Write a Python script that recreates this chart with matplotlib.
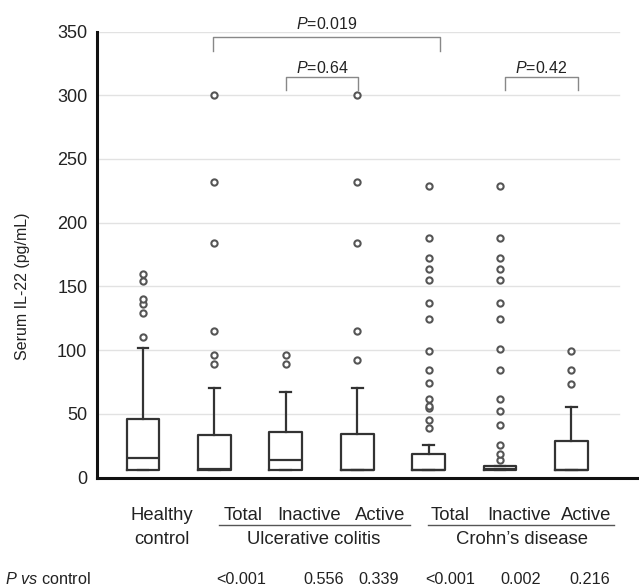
import matplotlib
matplotlib.use('Agg')
import matplotlib.pyplot as plt

plt.rcParams['font.family'] = ['Liberation Sans', 'DejaVu Sans']
plt.rcParams['mathtext.fontset'] = 'custom'
plt.rcParams['mathtext.rm'] = 'Liberation Sans'
plt.rcParams['mathtext.it'] = 'Liberation Sans:italic'

# box summaries (pg/mL)
groups = ['Healthy control', 'UC total', 'UC inactive', 'UC active',
          'CD total', 'CD inactive', 'CD active']
q1 = [5.5, 5.5, 5.5, 5.5, 5.5, 5.5, 5.5]
med = [15, 7, 13.4, 6, 6, 6.5, 6]
q3 = [46.2, 33.4, 35.5, 34.2, 18.6, 9, 28.5]
whis_hi = [101.7, 70.5, 67.3, 70.5, 25.6, 9, 55.3]
fliers = [
    [110, 129, 136, 140, 154, 160],
    [89, 96, 115, 184, 232, 300],
    [89, 96],
    [92, 115, 184, 232, 300],
    [39, 45, 54.5, 56.4, 61.6, 74, 84, 99.4, 124, 137, 155, 164, 172.5, 188, 228.5],
    [13.7, 18.6, 25.6, 41.3, 52.5, 61.6, 84, 100.6, 124, 137, 155, 164, 172.5, 188, 228.5],
    [73.5, 84, 99.4],
]

top_labels = ['Total', 'Inactive', 'Active', 'Total', 'Inactive', 'Active']
top_x = [243, 309, 380, 450, 519, 586]
p_vs_control = ['<0.001', '0.556', '0.339', '<0.001', '0.002', '0.216']
p_x = [241, 324, 379, 450, 521, 590]

W, H = 639, 587
fig = plt.figure(figsize=(W / 100, H / 100), dpi=100)


def fx(x):
    return x / W


def fy(y):
    return 1 - y / H


ax = fig.add_axes([fx(97), fy(477.5), fx(639) - fx(97), fy(31.5) - fy(477.5)])

stats = []
for i in range(len(groups)):
    stats.append(dict(med=med[i], q1=q1[i], q3=q3[i], whislo=q1[i],
                      whishi=whis_hi[i], fliers=fliers[i]))

dark = '#333333'
ax.bxp(stats, positions=range(1, 8), widths=0.46, capwidths=0.15,
       manage_ticks=False, showcaps=True,
       boxprops=dict(color=dark, linewidth=1.6),
       medianprops=dict(color=dark, linewidth=1.6),
       whiskerprops=dict(color=dark, linewidth=1.6),
       capprops=dict(color=dark, linewidth=1.6),
       flierprops=dict(marker='o', markersize=4.5, markerfacecolor='white',
                       markeredgecolor='#555555', markeredgewidth=1.5))

ax.set_xlim(0.356, 7.947)
ax.set_ylim(0, 350)
for v in range(50, 351, 50):
    ax.axhline(v, xmin=0, xmax=0.963, color='#e2e2e2', linewidth=1, zorder=0)

ax.set_yticks(range(0, 351, 50))
ax.set_xticks([])
ax.tick_params(axis='y', length=0, pad=7, labelsize=13, labelcolor='#222222')
for s in ['top', 'right']:
    ax.spines[s].set_visible(False)
ax.spines['left'].set_linewidth(2.2)
ax.spines['bottom'].set_linewidth(2.2)
ax.spines['left'].set_color('#111111')
ax.spines['bottom'].set_color('#111111')

# comparison brackets
bcol = '#888888'


def bracket(x0, x1, ytop, ybot, label, ytext):
    ax.plot([x0, x0, x1, x1], [ybot, ytop, ytop, ybot], color=bcol,
            linewidth=1, clip_on=False)
    ax.text((x0 + x1) / 2, ytext, label, ha='center', va='center',
            fontsize=11.5, color='#222222', clip_on=False)


bracket(1.985, 5.16, 346, 335, r'$\mathit{P}$=0.019', 356)
bracket(3.0, 4.015, 314, 304, r'$\mathit{P}$=0.64', 321)
bracket(6.07, 7.09, 314, 304, r'$\mathit{P}$=0.42', 321)

fig.text(fx(23), fy(286), 'Serum IL-22 (pg/mL)', rotation=90, ha='center',
         va='center', fontsize=11.5, color='#222222')

tc = '#222222'
fs = 13.3
fig.text(fx(162), fy(515), 'Healthy', ha='center', va='center', fontsize=fs, color=tc)
fig.text(fx(162), fy(539), 'control', ha='center', va='center', fontsize=fs, color=tc)
for lab, x in zip(top_labels, top_x):
    fig.text(fx(x), fy(515), lab, ha='center', va='center', fontsize=fs, color=tc)
fig.text(fx(314), fy(539), 'Ulcerative colitis', ha='center', va='center', fontsize=fs, color=tc)
fig.text(fx(522), fy(539), 'Crohn\u2019s disease', ha='center', va='center', fontsize=fs, color=tc)
fig.add_artist(plt.Line2D([fx(219), fx(410)], [fy(525), fy(525)], color='#555555', linewidth=1))
fig.add_artist(plt.Line2D([fx(428), fx(614)], [fy(525), fy(525)], color='#555555', linewidth=1))

fig.text(fx(5), fy(579), r'$\mathit{P\ vs}$ control', ha='left', va='center', fontsize=11.7, color=tc)
for lab, x in zip(p_vs_control, p_x):
    fig.text(fx(x), fy(579), lab, ha='center', va='center', fontsize=11.7, color=tc)

fig.savefig('out.png', dpi=100)
